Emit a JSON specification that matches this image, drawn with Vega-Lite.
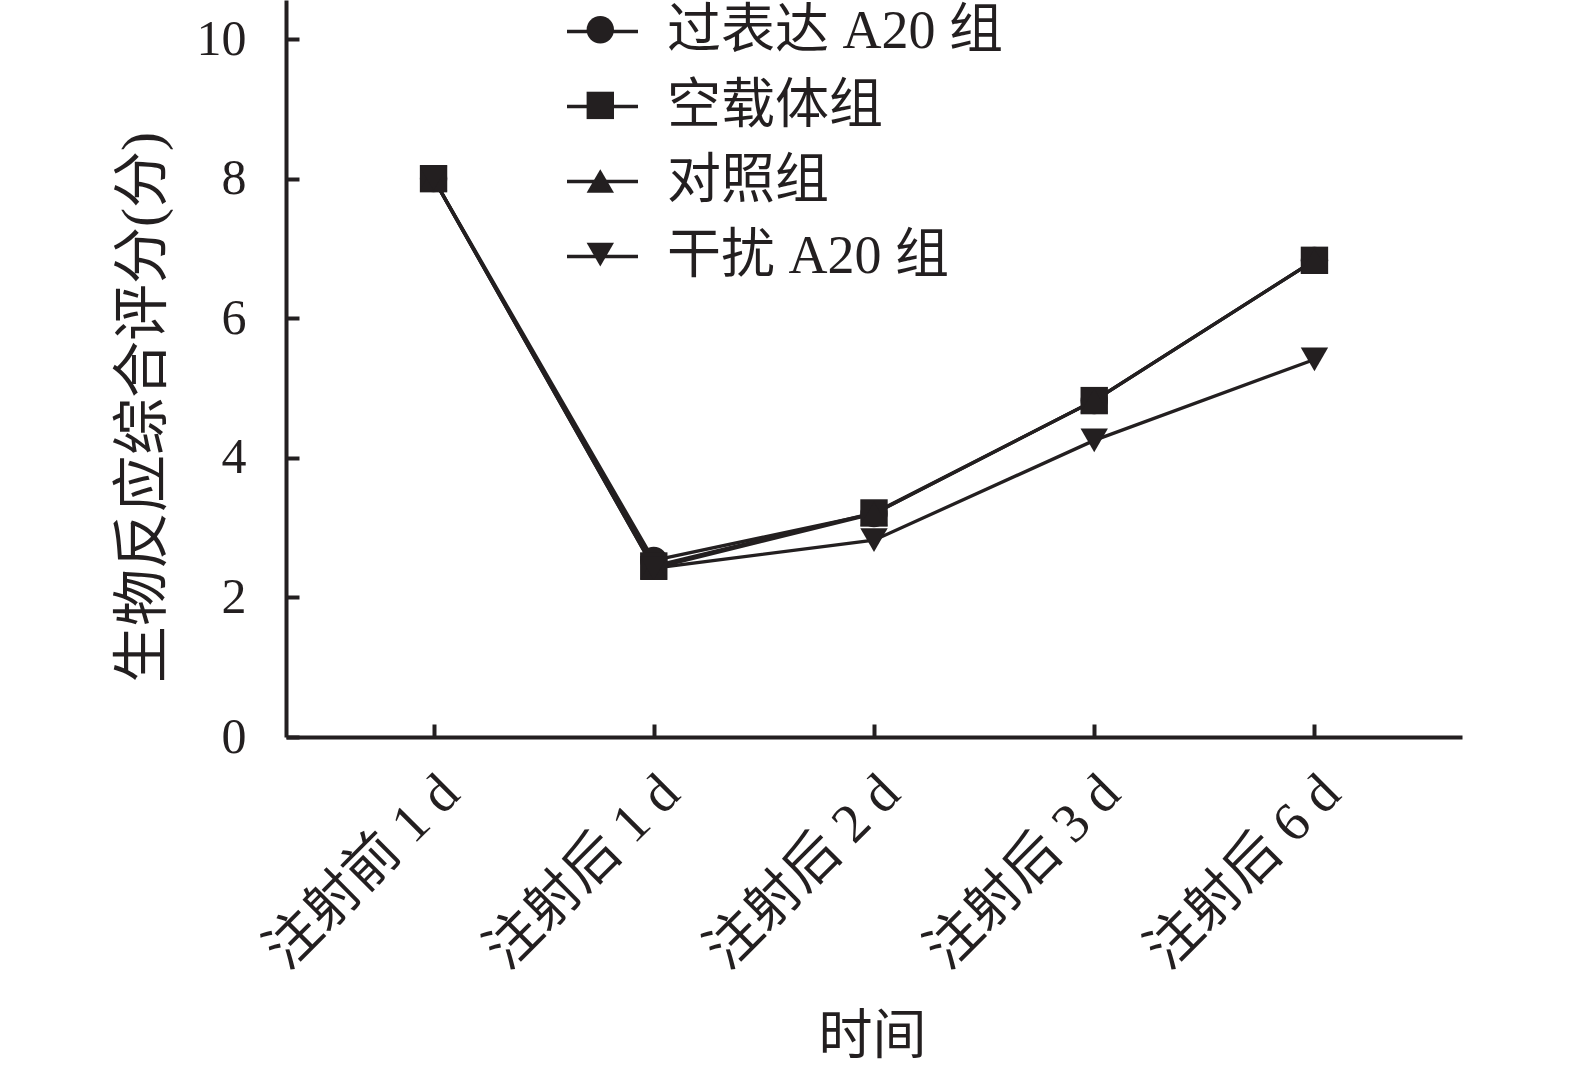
{
  "$schema": "https://vega.github.io/schema/vega-lite/v6.json",
  "autosize": {"type": "none"},
  "width": 1176,
  "height": 737,
  "padding": {"left": 286, "top": 0, "right": 113, "bottom": 337},
  "background": "white",
  "data": {"values": [
    {"time": "注射前 1 d", "group": "过表达 A20 组", "score": 8.0},
    {"time": "注射后 1 d", "group": "过表达 A20 组", "score": 2.53},
    {"time": "注射后 2 d", "group": "过表达 A20 组", "score": 3.2},
    {"time": "注射后 3 d", "group": "过表达 A20 组", "score": 4.82},
    {"time": "注射后 6 d", "group": "过表达 A20 组", "score": 6.83},
    {"time": "注射前 1 d", "group": "空载体组", "score": 8.0},
    {"time": "注射后 1 d", "group": "空载体组", "score": 2.45},
    {"time": "注射后 2 d", "group": "空载体组", "score": 3.21},
    {"time": "注射后 3 d", "group": "空载体组", "score": 4.82},
    {"time": "注射后 6 d", "group": "空载体组", "score": 6.83},
    {"time": "注射前 1 d", "group": "对照组", "score": 8.0},
    {"time": "注射后 1 d", "group": "对照组", "score": 2.42},
    {"time": "注射后 2 d", "group": "对照组", "score": 3.2},
    {"time": "注射后 3 d", "group": "对照组", "score": 4.82},
    {"time": "注射后 6 d", "group": "对照组", "score": 6.83},
    {"time": "注射前 1 d", "group": "干扰 A20 组", "score": 8.0},
    {"time": "注射后 1 d", "group": "干扰 A20 组", "score": 2.42},
    {"time": "注射后 2 d", "group": "干扰 A20 组", "score": 2.82},
    {"time": "注射后 3 d", "group": "干扰 A20 组", "score": 4.25},
    {"time": "注射后 6 d", "group": "干扰 A20 组", "score": 5.41}
  ]},
  "config": {
    "view": {"stroke": null},
    "font": "Liberation Serif, Noto Sans CJK SC",
    "axis": {
      "grid": false,
      "domainColor": "#231f20",
      "domainWidth": 4,
      "tickColor": "#231f20",
      "tickWidth": 4,
      "tickSize": -13,
      "labelColor": "#231f20",
      "labelFont": "Liberation Serif, Noto Sans CJK SC",
      "labelFontSize": 50,
      "labelLimit": 0,
      "titleColor": "#231f20",
      "titleFont": "Liberation Serif, Noto Sans CJK SC",
      "titleFontSize": 54,
      "titleFontWeight": "normal"
    },
    "legend": {"labelLimit": 0}
  },
  "encoding": {
    "x": {
      "field": "time",
      "type": "ordinal",
      "sort": ["注射前 1 d", "注射后 1 d", "注射后 2 d", "注射后 3 d", "注射后 6 d"],
      "scale": {"type": "point", "padding": 0.67},
      "axis": {
        "title": "时间",
        "labelAngle": -45,
        "labelAlign": "right",
        "labelBaseline": "middle",
        "labelPadding": 60,
        "labelOffset": 16,
        "labelFontSize": 55,
        "titleX": 586,
        "titleY": 300,
        "titleBaseline": "middle",
        "titleAlign": "center"
      }
    },
    "y": {
      "field": "score",
      "type": "quantitative",
      "scale": {"domain": [0, 10.56], "nice": false, "zero": true},
      "axis": {
        "title": "生物反应综合评分(分)",
        "titleFontSize": 57,
        "values": [0, 2, 4, 6, 8, 10],
        "labelPadding": 53,
        "titleX": -143,
        "titleY": 407,
        "titleAngle": -90,
        "titleAlign": "center",
        "titleBaseline": "middle"
      }
    }
  },
  "layer": [
    {
      "mark": {"type": "line", "strokeWidth": 3.3},
      "encoding": {
        "color": {
          "field": "group",
          "type": "nominal",
          "sort": ["过表达 A20 组", "空载体组", "对照组", "干扰 A20 组"],
          "scale": {"range": ["#231f20", "#231f20", "#231f20", "#231f20"]},
          "legend": {
            "title": null,
            "orient": "none",
            "legendX": 279,
            "legendY": -6,
            "padding": 0,
            "symbolType": "stroke",
            "symbolSize": 5041,
            "symbolStrokeWidth": 3.3,
            "symbolStrokeColor": "#231f20",
            "rowPadding": 10,
            "labelOffset": 27,
            "labelFontSize": 54,
            "labelColor": "#231f20",
            "labelFont": "Liberation Serif, Noto Sans CJK SC",
            "labelBaseline": "middle"
          }
        }
      }
    },
    {
      "mark": {"type": "point", "filled": true, "color": "#231f20", "opacity": 1, "size": 750, "strokeWidth": 0},
      "encoding": {
        "shape": {
          "field": "group",
          "type": "nominal",
          "scale": {
            "domain": ["过表达 A20 组", "空载体组", "对照组", "干扰 A20 组"],
            "range": ["circle", "square", "triangle-up", "triangle-down"]
          },
          "legend": {
            "title": null,
            "orient": "none",
            "legendX": 300.3,
            "legendY": 15.8,
            "padding": 0,
            "symbolSize": 750,
            "symbolFillColor": "#231f20",
            "symbolStrokeWidth": 0,
            "symbolOpacity": 1,
            "rowPadding": 47.6,
            "labelExpr": "''",
            "labelFontSize": 1
          }
        }
      }
    }
  ]
}
